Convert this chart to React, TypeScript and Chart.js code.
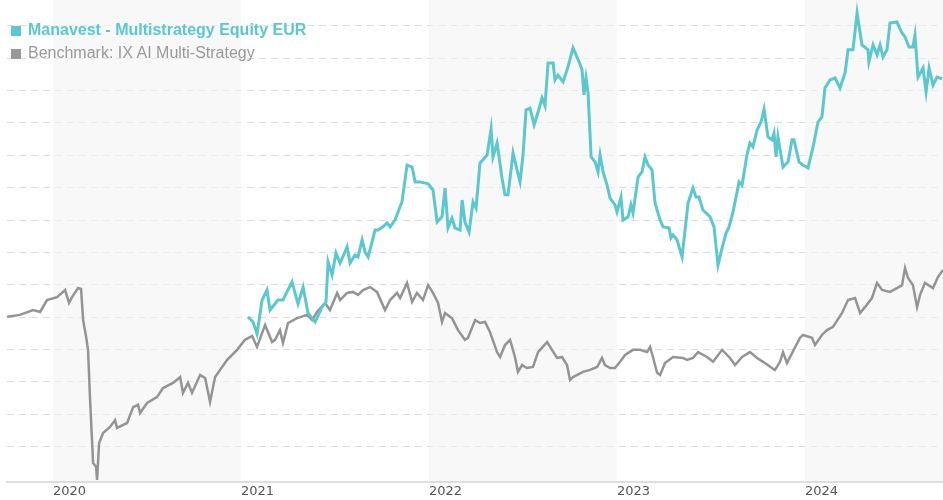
import React, { useEffect, useRef } from 'react';
import { Chart, registerables } from 'chart.js';

Chart.register(...registerables);

const fundLabel = 'Manavest - Multistrategy Equity EUR';
const benchLabel = 'Benchmark: IX AI Multi-Strategy';

const yearTicks = [2020, 2021, 2022, 2023, 2024];
const shadedYears = [2020, 2022, 2024];

const benchX = [2019.755, 2019.824, 2019.894, 2019.931, 2019.968, 2020.021, 2020.064, 2020.085, 2020.101, 2020.133, 2020.149, 2020.160, 2020.176, 2020.186, 2020.197, 2020.213, 2020.229, 2020.234, 2020.245, 2020.266, 2020.303, 2020.330, 2020.340, 2020.394, 2020.426, 2020.452, 2020.463, 2020.500, 2020.553, 2020.585, 2020.638, 2020.676, 2020.691, 2020.718, 2020.739, 2020.782, 2020.809, 2020.835, 2020.862, 2020.926, 2020.979, 2021.021, 2021.059, 2021.085, 2021.128, 2021.165, 2021.181, 2021.207, 2021.223, 2021.250, 2021.298, 2021.351, 2021.378, 2021.404, 2021.447, 2021.473, 2021.511, 2021.527, 2021.564, 2021.596, 2021.622, 2021.649, 2021.686, 2021.723, 2021.766, 2021.793, 2021.830, 2021.846, 2021.883, 2021.910, 2021.936, 2021.968, 2021.995, 2022.021, 2022.048, 2022.069, 2022.085, 2022.122, 2022.154, 2022.191, 2022.207, 2022.245, 2022.271, 2022.298, 2022.324, 2022.362, 2022.378, 2022.404, 2022.431, 2022.457, 2022.473, 2022.495, 2022.521, 2022.553, 2022.580, 2022.628, 2022.654, 2022.681, 2022.707, 2022.734, 2022.750, 2022.766, 2022.819, 2022.856, 2022.894, 2022.920, 2022.936, 2022.963, 2022.989, 2023.016, 2023.043, 2023.085, 2023.122, 2023.160, 2023.176, 2023.191, 2023.213, 2023.229, 2023.255, 2023.298, 2023.351, 2023.372, 2023.404, 2023.431, 2023.479, 2023.511, 2023.559, 2023.601, 2023.628, 2023.665, 2023.707, 2023.745, 2023.777, 2023.824, 2023.840, 2023.867, 2023.883, 2023.904, 2023.931, 2023.973, 2023.989, 2024.037, 2024.053, 2024.090, 2024.117, 2024.149, 2024.197, 2024.229, 2024.266, 2024.293, 2024.319, 2024.356, 2024.383, 2024.410, 2024.452, 2024.489, 2024.516, 2024.532, 2024.548, 2024.574, 2024.596, 2024.612, 2024.638, 2024.681, 2024.707, 2024.734];

const benchValues = [50.1, 50.7, 52.2, 51.6, 55.3, 56.2, 58.4, 54.4, 56.2, 59.0, 58.7, 49.1, 43.9, 39.9, 24.4, 4.9, 3.7, -0.3, 11.1, 14.2, 16.1, 18.2, 15.8, 17.3, 22.2, 22.9, 20.4, 23.5, 25.3, 28.1, 29.7, 31.5, 26.6, 29.7, 26.6, 32.1, 31.2, 23.8, 31.5, 36.8, 39.9, 43.0, 44.2, 40.8, 47.6, 42.3, 43.0, 46.0, 42.0, 48.2, 49.7, 50.7, 49.1, 51.6, 54.4, 52.2, 57.5, 55.3, 57.5, 57.8, 56.9, 58.4, 59.3, 57.8, 52.2, 55.3, 57.5, 55.9, 60.6, 54.7, 57.5, 55.3, 59.9, 57.5, 54.4, 48.5, 51.3, 49.7, 46.0, 43.0, 43.6, 49.1, 48.2, 48.5, 45.4, 39.2, 37.7, 41.4, 43.0, 37.7, 33.1, 35.2, 34.3, 34.6, 39.2, 42.3, 39.9, 37.4, 37.7, 35.2, 30.6, 31.5, 33.1, 33.7, 34.6, 37.4, 35.2, 34.3, 34.3, 36.2, 38.3, 39.9, 39.9, 39.2, 40.8, 37.7, 32.8, 32.1, 35.8, 37.7, 37.4, 36.8, 37.4, 39.2, 37.7, 36.2, 39.9, 37.4, 35.2, 37.7, 39.2, 37.4, 36.2, 34.3, 33.7, 36.2, 39.2, 35.8, 38.9, 43.6, 44.5, 43.6, 41.4, 44.5, 46.0, 47.0, 51.3, 55.3, 55.9, 51.3, 53.1, 55.9, 60.6, 58.4, 57.8, 59.0, 59.9, 65.2, 62.1, 59.9, 53.1, 56.9, 60.6, 59.0, 62.4, 64.6];

const fundX = [2021.037, 2021.064, 2021.085, 2021.112, 2021.138, 2021.154, 2021.197, 2021.223, 2021.271, 2021.303, 2021.330, 2021.356, 2021.394, 2021.431, 2021.452, 2021.463, 2021.484, 2021.505, 2021.527, 2021.564, 2021.580, 2021.606, 2021.622, 2021.644, 2021.660, 2021.676, 2021.713, 2021.729, 2021.755, 2021.777, 2021.793, 2021.819, 2021.856, 2021.883, 2021.910, 2021.926, 2021.952, 2021.995, 2022.021, 2022.043, 2022.069, 2022.085, 2022.101, 2022.122, 2022.138, 2022.165, 2022.176, 2022.191, 2022.213, 2022.234, 2022.250, 2022.271, 2022.309, 2022.330, 2022.340, 2022.362, 2022.388, 2022.404, 2022.420, 2022.447, 2022.468, 2022.484, 2022.500, 2022.516, 2022.537, 2022.559, 2022.580, 2022.601, 2022.617, 2022.633, 2022.660, 2022.670, 2022.686, 2022.713, 2022.739, 2022.766, 2022.798, 2022.814, 2022.824, 2022.835, 2022.846, 2022.862, 2022.883, 2022.899, 2022.910, 2022.926, 2022.947, 2022.963, 2022.989, 2023.000, 2023.021, 2023.032, 2023.059, 2023.074, 2023.085, 2023.112, 2023.133, 2023.149, 2023.165, 2023.186, 2023.202, 2023.229, 2023.245, 2023.277, 2023.287, 2023.298, 2023.319, 2023.346, 2023.378, 2023.404, 2023.420, 2023.436, 2023.457, 2023.495, 2023.516, 2023.537, 2023.559, 2023.580, 2023.596, 2023.617, 2023.649, 2023.665, 2023.691, 2023.707, 2023.723, 2023.745, 2023.766, 2023.782, 2023.803, 2023.824, 2023.835, 2023.846, 2023.856, 2023.883, 2023.910, 2023.931, 2023.941, 2023.968, 2023.989, 2024.016, 2024.043, 2024.069, 2024.090, 2024.106, 2024.133, 2024.160, 2024.186, 2024.213, 2024.229, 2024.255, 2024.277, 2024.303, 2024.335, 2024.340, 2024.362, 2024.383, 2024.399, 2024.415, 2024.436, 2024.452, 2024.489, 2024.516, 2024.532, 2024.553, 2024.574, 2024.585, 2024.601, 2024.628, 2024.644, 2024.660, 2024.681, 2024.702, 2024.729];

const fundValues = [50.1, 48.5, 44.8, 55.3, 58.4, 52.2, 55.3, 55.3, 60.9, 54.1, 59.3, 51.3, 48.5, 53.1, 54.7, 67.1, 63.0, 69.8, 66.7, 71.7, 66.7, 69.2, 68.6, 73.9, 70.1, 68.6, 76.9, 76.9, 77.9, 79.1, 77.9, 80.0, 85.6, 97.0, 96.4, 91.8, 91.8, 91.2, 89.3, 79.4, 81.0, 89.9, 77.6, 80.6, 77.6, 76.9, 86.2, 79.4, 76.3, 85.6, 83.7, 97.6, 100.1, 108.2, 99.5, 103.8, 93.0, 87.8, 87.8, 100.7, 95.5, 91.8, 100.1, 114.0, 114.6, 109.4, 113.4, 117.7, 115.3, 128.5, 128.5, 123.3, 124.8, 122.7, 127.3, 133.2, 128.9, 126.4, 118.7, 123.9, 119.3, 99.5, 98.0, 94.9, 100.1, 94.9, 90.8, 86.8, 84.7, 82.5, 87.1, 80.0, 81.0, 84.7, 82.2, 93.3, 94.9, 99.5, 97.0, 95.5, 85.3, 80.0, 77.9, 77.6, 74.5, 75.4, 73.9, 68.6, 85.3, 89.9, 87.1, 87.1, 83.1, 81.0, 77.9, 66.1, 71.4, 76.0, 77.9, 82.5, 91.8, 90.8, 100.1, 103.8, 102.6, 107.8, 110.3, 114.3, 105.7, 104.8, 106.9, 99.5, 105.7, 96.4, 98.0, 104.8, 104.8, 98.0, 97.0, 96.1, 102.6, 110.3, 111.9, 120.8, 123.3, 123.9, 120.8, 125.5, 132.6, 132.6, 144.0, 134.1, 132.6, 128.9, 134.1, 131.0, 134.1, 130.4, 132.6, 140.9, 141.2, 137.8, 136.6, 133.5, 133.5, 137.2, 124.2, 127.0, 119.6, 127.0, 121.7, 124.2, 123.6];

const FUND_COLOR = 'rgb(92,199,207)';
const BENCH_COLOR = 'rgb(148,148,148)';

const bandPlugin = {
  id: 'yearBands',
  beforeDatasetsDraw(chart: any) {
    const { ctx, chartArea, scales } = chart;
    const xs = scales.x;
    ctx.save();
    ctx.fillStyle = 'rgba(244,244,244,0.6)';
    shadedYears.forEach((yr) => {
      const x0 = Math.max(chartArea.left, xs.getPixelForValue(yr));
      const x1 = Math.min(chartArea.right, xs.getPixelForValue(yr + 1));
      if (x1 > x0) ctx.fillRect(x0, 0, x1 - x0, chartArea.bottom - 1);
    });
    ctx.restore();
  },
};

export default function App() {
  const ref = useRef<HTMLCanvasElement | null>(null);

  useEffect(() => {
    if (!ref.current) return;
    const chart = new Chart(ref.current, {
      type: 'line',
      data: {
        datasets: [
          {
            label: fundLabel,
            data: fundX.map((x, i) => ({ x, y: fundValues[i] })),
            borderColor: FUND_COLOR,
            borderWidth: 3,
            pointRadius: 0,
            tension: 0,
            fill: false,
          },
          {
            label: benchLabel,
            data: benchX.map((x, i) => ({ x, y: benchValues[i] })),
            borderColor: BENCH_COLOR,
            borderWidth: 2.5,
            pointRadius: 0,
            tension: 0,
            fill: false,
          },
        ],
      },
      options: {
        animation: false,
        responsive: false,
        maintainAspectRatio: false,
        layout: { padding: { left: 7, right: 0, top: 0, bottom: 0 } },
        plugins: { legend: { display: false }, tooltip: { enabled: false } },
        scales: {
          x: {
            type: 'linear',
            min: benchX[0],
            max: benchX[benchX.length - 1],
            afterBuildTicks: (scale: any) => {
              scale.ticks = yearTicks.map((v) => ({ value: v }));
            },
            afterFit: (scale: any) => {
              scale.height = 18;
            },
            ticks: {
              align: 'start',
              padding: 2,
              color: '#555',
              font: { family: 'DejaVu Sans', size: 13 },
              callback: (v: any) => String(v),
              maxRotation: 0,
              autoSkip: false,
            },
            grid: { display: false, drawTicks: false },
            border: { display: true, color: '#dedede', width: 2 },
          },
          y: {
            min: -0.93,
            max: 148,
            afterBuildTicks: (scale: any) => {
              scale.ticks = scale.ticks.filter(
                (t: any) => t.value >= 0 && Math.abs(t.value % 10) < 1e-6
              );
            },
            ticks: { display: false, stepSize: 10 },
            grid: { color: '#dcdcdc', lineWidth: 1, drawTicks: false },
            border: { display: false, dash: [7, 5] },
          },
        },
      },
      plugins: [bandPlugin],
    });
    return () => chart.destroy();
  }, []);

  const legendText: React.CSSProperties = {
    position: 'absolute',
    left: 11,
    fontFamily: '"Liberation Sans", Arial, sans-serif',
    fontSize: 16,
    lineHeight: '18px',
    whiteSpace: 'nowrap',
    display: 'flex',
    alignItems: 'center',
  };
  const square = (c: string): React.CSSProperties => ({
    display: 'inline-block',
    width: 10,
    height: 10,
    background: c,
    marginRight: 7,
    marginTop: 1,
  });

  return (
    <div style={{ position: 'absolute', left: 0, top: 0, width: 943, height: 500 }}>
      <canvas ref={ref} width={943} height={500} style={{ display: 'block' }} />
      <div style={{ ...legendText, top: 21, color: FUND_COLOR, fontWeight: 'bold' }}>
        <span style={square(FUND_COLOR)} />
        {fundLabel}
      </div>
      <div style={{ ...legendText, top: 44, color: '#999' }}>
        <span style={square('#999')} />
        {benchLabel}
      </div>
    </div>
  );
}
